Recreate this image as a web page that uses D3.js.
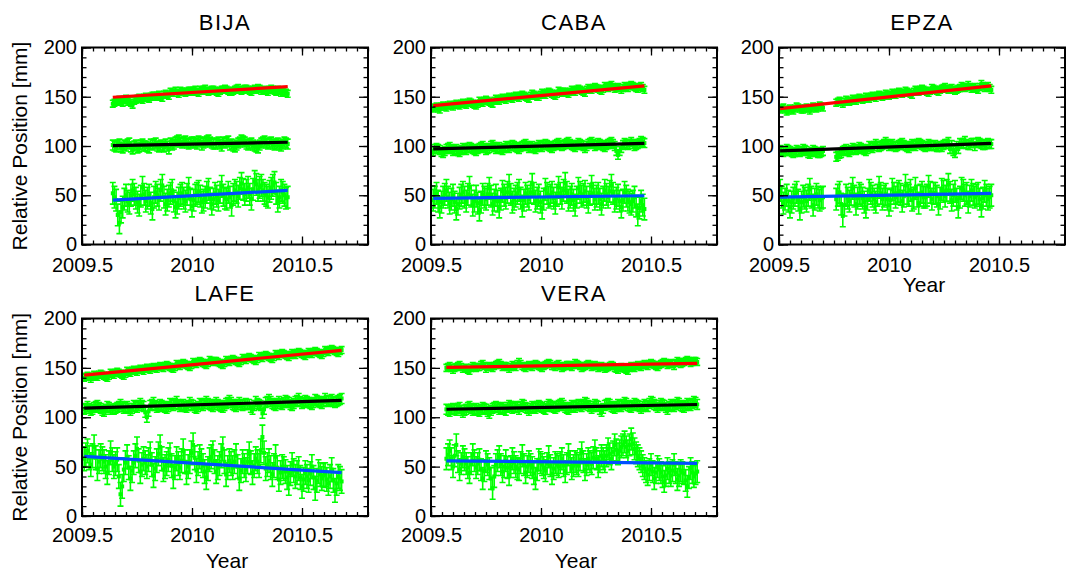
<!DOCTYPE html>
<html><head><meta charset="utf-8">
<script src="https://cdn.jsdelivr.net/npm/d3@7"></script>
<style>
body{margin:0;background:#fff}
svg{display:block}
text{font-family:"Liberation Sans",Arial,Helvetica,sans-serif;fill:#000}
</style>
</head><body>
<svg id="c" width="1066" height="574"></svg>
<script>
// ---------------- DATA ----------------
const stations = ["BIJA", "CABA", "EPZA", "LAFE", "VERA"];
const startYear = [2009.64, 2009.51, 2009.505, 2009.51, 2009.57];
const stepYear = 0.015;          // spacing of the "A" epochs; "B" epochs sit half-way between
const xTicks = [2009.5, 2010, 2010.5];
const xTickLabels = ["2009.5", "2010", "2010.5"];
const yTicks = [0, 50, 100, 150, 200];
const yTickLabels = ["0", "50", "100", "150", "200"];

// BIJA
const redBIJA = [143,145,147,144,148,146,142,147,149,147,150,148,151,150,152,149,153,151,154,156,153,155,154,156,155,157,154,156,158,155,157,156,154,157,158,156,155,157,159,156,158,157,155,158,159,156,157,155,158,156,157,154,156,153];
const redBIJAb = [144,146,145,147,145,144,146,148,148,149,149,150,151,151,150,152,152,155,154,154,156,155,155,156,156,155,157,157,156,156,157,155,156,157,157,155,156,158,157,157,158,156,157,157,158,156,156,157,157,155,156,155,154];
const blackBIJA = [101,99,102,98,100,103,97,101,99,102,100,98,101,103,99,100,102,97,101,104,106,103,105,102,104,103,105,101,104,106,103,102,104,100,103,105,102,99,103,106,104,101,103,100,98,103,105,102,104,101,103,100,104,102];
const blackBIJAb = [100,101,99,101,102,99,100,98,101,100,99,102,102,100,101,99,100,103,102,105,104,104,103,103,104,102,104,103,105,104,102,103,102,104,104,101,100,101,104,105,102,102,101,99,101,104,103,103,102,102,101,102,103];
const blueBIJA = [52,45,22,38,50,42,55,47,40,58,44,50,36,53,46,60,41,49,55,38,47,52,44,57,39,50,54,43,48,56,41,52,45,59,47,53,40,55,49,62,51,58,46,64,55,60,52,48,57,63,44,55,50,48];
const blueBIJAb = [48,30,33,46,44,50,51,43,49,51,47,42,48,50,55,48,45,52,44,42,50,47,51,46,45,52,49,45,53,47,46,49,53,50,46,48,51,53,57,56,55,51,56,61,58,55,50,54,60,52,48,53,47];

// CABA
const redCABA = [138,140,137,141,139,142,140,143,141,144,142,145,143,141,146,144,147,145,143,148,146,149,147,150,148,151,149,152,150,148,153,151,150,154,152,155,153,151,156,154,155,153,157,155,158,156,154,159,157,160,158,156,161,159,162,158,160,157,161,159,162,160,158,161,157];
const redCABAb = [139,138,140,140,141,141,142,142,143,143,144,144,142,143,145,146,146,144,146,147,148,148,149,149,150,150,151,151,149,151,152,150,152,153,154,154,152,153,155,155,154,155,156,157,157,155,157,158,159,159,157,158,160,161,160,159,159,159,160,161,161,159,160,159];
const blackCABA = [95,98,96,93,97,99,95,97,94,98,96,99,97,95,98,100,96,98,101,97,99,96,100,98,101,99,97,100,102,98,100,97,101,99,102,100,98,101,103,100,102,104,101,99,103,101,98,102,104,100,103,101,99,102,104,100,91,98,103,101,104,100,102,105,103];
const blackCABAb = [97,97,94,95,98,97,96,95,96,97,98,98,96,97,99,98,97,100,99,98,97,98,99,100,100,98,99,101,100,99,98,99,100,101,101,99,100,102,101,101,103,102,100,101,102,100,100,103,102,101,102,100,101,103,102,95,95,101,102,102,102,101,103,104];
const blueCABA = [45,52,38,48,55,42,50,36,47,53,44,58,40,49,35,51,46,57,41,50,38,54,47,60,43,49,55,39,52,46,61,44,50,37,56,48,53,42,58,47,62,45,51,40,57,49,54,43,59,46,52,41,55,48,60,44,50,38,53,45,41,48,30,44,36];
const blueCABAb = [48,44,43,51,48,46,43,41,50,48,51,49,44,42,43,48,51,49,45,44,46,50,53,51,46,52,47,45,49,53,52,47,43,46,52,50,47,50,52,55,53,48,45,48,53,51,48,51,52,49,46,48,51,54,52,47,44,45,49,43,44,39,37,40];

// EPZA (null = data gap)
const redEPZA = [137,139,135,138,136,140,138,137,139,136,140,138,141,139,null,null,null,144,146,143,147,145,148,146,149,147,150,148,151,149,152,150,153,151,154,152,155,153,156,154,152,157,155,158,156,154,159,157,155,158,160,157,159,156,158,161,159,162,158,160,157,163,159,161,157];
const redEPZAb = [138,137,136,137,138,139,137,138,138,138,139,139,140,null,null,null,null,145,145,145,146,146,147,148,148,148,149,150,150,151,151,151,152,152,153,154,154,154,155,153,155,156,157,157,155,156,158,156,157,159,158,158,157,157,159,160,160,160,159,158,160,161,160,159];
const blackEPZA = [96,94,97,95,93,96,94,97,95,92,96,94,93,95,null,null,null,89,92,95,97,94,98,96,99,97,95,100,98,102,99,101,104,100,102,99,101,103,100,98,102,100,103,101,99,102,100,101,99,99,102,104,101,93,97,102,105,101,103,100,104,102,101,103,102];
const blackEPZAb = [95,95,96,94,94,95,95,96,93,94,95,93,94,null,null,null,null,90,93,96,95,96,97,97,98,96,97,99,100,100,100,102,102,101,100,100,102,101,99,100,101,102,102,100,100,101,100,99,100,101,102,97,95,100,103,103,102,101,103,103,103,101,102,102];
const blueEPZA = [55,42,50,38,47,53,36,49,44,56,40,51,45,48,null,null,null,46,53,29,50,44,57,41,52,47,38,55,49,43,58,46,51,40,56,48,54,44,60,50,45,57,42,53,48,59,46,52,41,56,49,61,45,54,38,57,50,43,55,48,52,39,54,46,50];
const blueEPZAb = [48,46,44,43,50,45,43,47,50,48,46,48,47,null,null,null,null,50,41,40,47,51,49,47,50,43,46,52,46,50,52,49,46,45,52,52,51,49,52,55,47,49,50,48,50,53,52,49,47,54,55,53,50,46,48,55,52,49,51,50,46,47,50,48];

// LAFE
const redLAFE = [140,142,139,143,141,144,142,140,145,143,146,144,142,147,145,148,146,149,147,150,148,151,149,152,150,153,151,149,154,152,155,153,151,156,154,157,155,153,158,156,157,155,153,158,156,159,157,155,160,158,161,159,157,162,160,163,161,159,164,162,165,163,161,165,163,166,164,162,166,164,167,165,163,168,166,169,167,165,168];
const redLAFEb = [141,141,141,142,143,143,141,142,144,145,145,143,144,146,147,147,148,148,149,149,150,150,151,151,152,152,150,151,153,154,154,152,153,155,156,156,154,155,157,157,156,154,155,157,158,158,156,157,159,160,160,158,159,161,162,162,160,161,163,164,164,162,163,164,165,165,163,164,165,166,166,164,165,167,168,168,166,167];
const blackLAFE = [108,111,107,110,112,109,106,111,108,108,110,113,109,111,107,112,110,114,111,100,112,115,110,113,111,109,114,112,116,111,113,110,115,112,109,114,112,116,113,111,115,112,110,114,117,113,111,115,112,114,113,108,116,113,104,115,118,114,112,116,113,117,115,112,116,119,114,117,115,113,118,116,114,119,116,118,115,117,119];
const blackLAFEb = [109,109,108,111,110,107,108,110,108,109,111,111,110,109,109,111,112,112,105,106,113,112,111,112,110,111,113,114,113,112,111,112,113,110,111,113,114,114,112,113,113,111,112,115,115,112,113,113,113,113,110,112,114,112,108,116,116,113,114,114,115,116,113,114,117,116,115,116,114,115,117,115,116,117,117,116,116,118];
const blueLAFE = [58,66,52,70,48,61,55,44,64,50,57,22,47,60,38,54,68,45,58,50,63,41,56,70,47,53,62,40,58,49,66,44,55,72,46,60,51,39,57,64,45,53,68,42,56,49,61,38,55,47,63,44,58,51,80,48,56,42,60,37,50,45,33,52,40,48,30,44,36,50,28,45,38,42,33,47,26,40,35];
const blueLAFEb = [62,59,61,59,55,58,50,54,57,53,40,30,54,49,46,61,56,52,54,57,52,48,63,58,50,57,51,49,53,56,55,50,64,59,53,56,45,48,60,55,49,61,55,49,53,55,50,46,51,55,54,51,55,66,64,52,49,51,49,44,48,39,43,46,44,39,37,40,43,39,36,42,41,37,40,36,33,38];

// VERA
const redVERA = [150,152,148,151,153,149,150,147,152,150,151,154,149,152,150,153,155,151,152,149,153,151,156,152,150,153,151,154,152,150,153,155,152,151,154,150,152,153,151,155,153,150,152,154,151,153,150,152,149,151,153,150,148,151,149,147,152,150,153,151,154,152,155,153,151,154,156,153,155,152,157,154,156,158,155,157,156];
const redVERAb = [151,150,150,152,151,149,148,150,151,151,153,152,151,151,152,154,153,152,151,151,152,154,154,151,152,152,153,153,151,152,154,154,152,153,152,151,153,152,153,154,152,151,153,153,152,152,151,151,150,152,152,149,150,150,148,150,151,152,152,153,153,154,154,152,153,155,155,154,154,155,156,155,157,157,156,157];
const blackVERA = [108,106,109,107,110,105,108,111,107,109,106,110,108,104,109,111,108,110,107,112,109,111,108,113,110,107,111,109,112,110,108,113,111,109,112,114,110,108,112,110,113,111,115,112,109,113,111,106,112,114,111,109,113,111,115,112,110,114,112,109,113,111,116,113,110,114,112,108,113,111,115,112,110,114,112,116,113];
const blackVERAb = [107,108,108,109,107,107,110,109,108,107,108,109,106,107,110,110,109,108,110,111,110,110,111,112,109,109,110,111,111,109,111,112,110,111,113,112,109,110,111,112,112,113,114,111,111,112,108,109,113,113,110,111,112,113,114,111,112,113,111,111,112,114,115,112,112,113,110,111,112,113,114,111,112,113,114,115];
const blueVERA = [58,66,50,72,47,60,53,44,62,49,57,38,55,48,28,52,60,45,56,42,58,50,47,61,44,55,49,38,57,52,46,60,43,54,50,58,45,62,48,55,51,64,47,58,53,66,50,61,55,68,58,72,63,70,75,66,78,68,61,55,48,42,52,38,50,44,35,48,41,52,37,46,43,30,48,40,45];
const blueVERAb = [62,58,61,55,53,57,49,53,56,53,47,46,52,38,40,56,52,50,49,50,54,48,54,52,50,52,43,47,54,49,53,51,48,52,54,51,53,55,51,53,57,55,52,55,59,58,55,58,61,63,65,67,66,72,70,72,73,64,58,51,45,47,45,44,47,40,41,44,46,44,41,44,36,39,44,43];

// error bar half-lengths (mm) per station
const errRed = [3.5, 3.5, 3.5, 3.5, 3.5];
const errBlack = [5, 4.5, 4.5, 5, 5];
const errBlue = [11, 11, 11, 12, 11];

// fitted linear trends [value at first epoch, value at last epoch]
const fitRed = [[149.5,160.3],[141,161],[138,161],[142.7,167.8],[150.5,154.6]];
const fitBlack = [[100.3,103.8],[97,102.7],[95,102.7],[109.2,117],[108.1,112.9]];
const fitBlue = [[45,54.9],[46.8,49.5],[48,51.9],[60.3,44],[55.9,53.2]];

const seriesRed = [[redBIJA, redBIJAb], [redCABA, redCABAb], [redEPZA, redEPZAb], [redLAFE, redLAFEb], [redVERA, redVERAb]];
const seriesBlack = [[blackBIJA, blackBIJAb], [blackCABA, blackCABAb], [blackEPZA, blackEPZAb], [blackLAFE, blackLAFEb], [blackVERA, blackVERAb]];
const seriesBlue = [[blueBIJA, blueBIJAb], [blueCABA, blueCABAb], [blueEPZA, blueEPZAb], [blueLAFE, blueLAFEb], [blueVERA, blueVERAb]];

// ---------------- LAYOUT ----------------
const panelLeft = [82, 431, 779, 82, 431];
const panelTop = [47.5, 47.5, 47.5, 318.5, 318.5];
const panelBottom = [244.5, 244.5, 244.5, 516, 516];
const panelW = 286;
const showYear = [false, false, true, true, true];
const showYLabel = [true, false, false, true, false];
const tickBaseline = [28, 28, 28, 26.5, 26.5];
const yearBaseline = [0, 0, 47.5, 52, 52];

const svg = d3.select("#c");
const green = "#00ff00";
const lineColors = ["#ff0000", "#000000", "#0050ff"];

stations.forEach((name, p) => {
  const L = panelLeft[p], T = panelTop[p], B = panelBottom[p];
  const H = B - T;
  const g = svg.append("g").attr("transform", `translate(${L},${T})`);
  const x = d3.scaleLinear().domain([2009.5, 2010.8]).range([0, panelW]);
  const y = d3.scaleLinear().domain([0, 200]).range([H, 0]);

  g.append("clipPath").attr("id", "clip" + p)
    .append("rect").attr("width", panelW).attr("height", H);
  const plot = g.append("g").attr("clip-path", `url(#clip${p})`);

  const comps = [
    {vals: seriesRed[p], err: errRed[p], fit: fitRed[p]},
    {vals: seriesBlack[p], err: errBlack[p], fit: fitBlack[p]},
    {vals: seriesBlue[p], err: errBlue[p], fit: fitBlue[p]}
  ];

  comps.forEach(c => {
    const ptsA = c.vals[0].map((v, i) => ({t: startYear[p] + i * stepYear, v}));
    const ptsB = c.vals[1].map((v, i) => ({t: startYear[p] + (i + 0.5) * stepYear, v}));
    const pts = ptsA.concat(ptsB).filter(d => d.v !== null).sort((a, b) => a.t - b.t);
    const eg = plot.append("g").attr("stroke", green).attr("stroke-width", 1.6).attr("fill", green);
    eg.selectAll("path.eb").data(pts).enter().append("path")
      .attr("class", "eb")
      .attr("fill", "none")
      .attr("d", d => {
        const xx = x(d.t), y1 = y(d.v - c.err), y2 = y(d.v + c.err);
        return `M${xx},${y1}V${y2}M${xx - 3},${y1}H${xx + 3}M${xx - 3},${y2}H${xx + 3}`;
      });
    eg.selectAll("rect.pt").data(pts).enter().append("rect")
      .attr("class", "pt")
      .attr("x", d => x(d.t) - 2).attr("y", d => y(d.v) - 2)
      .attr("width", 4).attr("height", 4).attr("stroke", "none");
  });

  comps.forEach((c, k) => {
    const n = c.vals[0].length;
    const t0 = startYear[p], t1 = startYear[p] + (n - 1) * stepYear;
    plot.append("line")
      .attr("x1", x(t0)).attr("x2", x(t1))
      .attr("y1", y(c.fit[0])).attr("y2", y(c.fit[1]))
      .attr("stroke", lineColors[k]).attr("stroke-width", 3.2);
  });

  // axes (inward ticks on all four sides)
  const xMinor = d3.range(0, 27).map(i => 2009.5 + i * 0.05);
  const yMinor = d3.range(0, 21).map(i => i * 10);
  const fmtX = d => xTickLabels[xTicks.indexOf(d)];
  const fmtY = d => yTickLabels[yTicks.indexOf(d)];

  const styleAxis = sel => {
    sel.select(".domain").remove();
    sel.selectAll("line").attr("stroke", "#000").attr("stroke-width", 1.3);
  };

  g.append("g").attr("transform", `translate(0,${H})`)
    .call(d3.axisBottom(x).tickValues(xMinor).tickSize(-4).tickFormat("")).call(styleAxis);
  const xb = g.append("g").attr("transform", `translate(0,${H})`)
    .call(d3.axisBottom(x).tickValues(xTicks).tickSize(-8).tickPadding(tickBaseline[p] - 14.4).tickFormat(fmtX));
  styleAxis(xb);
  xb.selectAll("text").attr("font-size", 20).attr("font-family", '"Liberation Sans",Arial,sans-serif').attr("fill", "#000");

  g.append("g").call(d3.axisTop(x).tickValues(xMinor).tickSize(-4).tickFormat("")).call(styleAxis);
  g.append("g").call(d3.axisTop(x).tickValues(xTicks).tickSize(-8).tickFormat("")).call(styleAxis);

  g.append("g").call(d3.axisLeft(y).tickValues(yMinor).tickSize(-4.5).tickFormat("")).call(styleAxis);
  const yl = g.append("g").call(d3.axisLeft(y).tickValues(yTicks).tickSize(-9).tickPadding(5).tickFormat(fmtY));
  styleAxis(yl);
  yl.selectAll("text").attr("font-size", 20).attr("font-family", '"Liberation Sans",Arial,sans-serif').attr("fill", "#000");

  g.append("g").attr("transform", `translate(${panelW},0)`)
    .call(d3.axisRight(y).tickValues(yMinor).tickSize(-4.5).tickFormat("")).call(styleAxis);
  g.append("g").attr("transform", `translate(${panelW},0)`)
    .call(d3.axisRight(y).tickValues(yTicks).tickSize(-9).tickFormat("")).call(styleAxis);

  g.append("rect").attr("width", panelW).attr("height", H)
    .attr("fill", "none").attr("stroke", "#000").attr("stroke-width", 2);

  g.append("text").attr("x", panelW / 2).attr("y", -17.5)
    .attr("text-anchor", "middle").attr("font-size", 22).attr("letter-spacing", 1.5).text(name);

  if (showYear[p]) {
    g.append("text").attr("x", panelW / 2 + 2).attr("y", H + yearBaseline[p])
      .attr("text-anchor", "middle").attr("font-size", 21).text("Year");
  }
  if (showYLabel[p]) {
    g.append("text").attr("transform", `translate(${27 - L},${H / 2}) rotate(-90)`)
      .attr("text-anchor", "middle").attr("font-size", 21).text("Relative Position [mm]");
  }
});
</script>
</body></html>
